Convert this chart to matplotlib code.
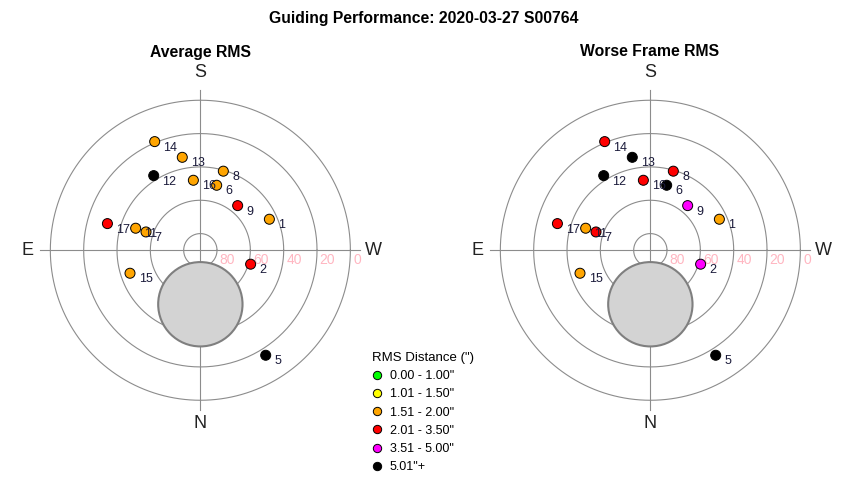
import numpy as np
import matplotlib
matplotlib.use('Agg')
import matplotlib.pyplot as plt
from matplotlib.lines import Line2D
from matplotlib.patches import Circle

plt.rcParams['font.family'] = ['Liberation Sans', 'DejaVu Sans']

# guide star positions (azimuth from N through E, altitude in degrees)
point_labels = ['1', '2', '5', '6', '7', '8', '9', '11', '12', '13', '14', '15', '16', '17']
azimuth = [245.8, 285.5, 328.1, 194.1, 108.6, 196.2, 219.9, 108.8, 148.0, 169.0, 157.2, 71.9, 174.3, 106.0]
altitude = [44.6, 58.7, 15.8, 49.8, 55.6, 40.6, 55.1, 49.0, 37.2, 33.2, 19.3, 45.6, 47.8, 32.0]

# RMS class of each point (index into bins below)
avg_class = [2, 3, 5, 2, 2, 2, 3, 2, 5, 2, 2, 2, 2, 3]
worst_class = [2, 4, 5, 5, 3, 3, 4, 2, 5, 5, 3, 2, 3, 3]

bin_labels = ['0.00 - 1.00"', '1.01 - 1.50"', '1.51 - 2.00"', '2.01 - 3.50"', '3.51 - 5.00"', '5.01"+']
bin_colors = ['#00ff00', '#ffff00', '#ffa500', '#ff0000', '#ff00ff', '#000000']

alt_rings = [80, 60, 40, 20, 0]

# moon avoidance zone
moon_az = 0.0
moon_alt = 57.6
moon_radius = 25.3


def project(az, alt):
    az = np.radians(np.asarray(az, dtype=float))
    zd = 90 - np.asarray(alt, dtype=float)
    return -zd * np.sin(az), -zd * np.cos(az)


def sky_plot(ax, classes):
    ax.set_xlim(-110, 110)
    ax.set_ylim(-110, 110)
    ax.axis('off')
    t = np.linspace(0, 2 * np.pi, 361)
    for a in alt_rings:
        zd = 90 - a
        ax.plot(zd * np.cos(t), zd * np.sin(t), color='#8c8c8c', lw=0.8, zorder=1)
        ax.text(zd + 1.6, -1.6, str(a), color='#ffb6c1', fontsize=10, ha='left', va='top', zorder=1)
    ax.plot([-96, 96], [0, 0], color='#8c8c8c', lw=0.8, zorder=1)
    ax.plot([0, 0], [-96, 96], color='#8c8c8c', lw=0.8, zorder=1)

    mx, my = project(moon_az, moon_alt)
    ax.add_patch(Circle((mx, my), moon_radius, facecolor='#d3d3d3', edgecolor='#7f7f7f', lw=1.5, zorder=2))

    ax.text(0, 106.4, 'S', fontsize=13, ha='center', va='center', color='#222222')
    ax.text(0, -104, 'N', fontsize=13, ha='center', va='center', color='#222222')
    ax.text(-104, 0, 'E', fontsize=13, ha='center', va='center', color='#222222')
    ax.text(104, 0, 'W', fontsize=13, ha='center', va='center', color='#222222')

    x, y = project(azimuth, altitude)
    cols = [bin_colors[c] for c in classes]
    ax.scatter(x, y, s=52, c=cols, edgecolors='black', linewidths=0.7, zorder=3)
    for xi, yi, lab in zip(x, y, point_labels):
        ax.annotate(lab, (xi, yi), xytext=(6.3, -4.3), textcoords='offset points',
                    fontsize=9, ha='left', va='center', color='#1a1a3a', zorder=4)


fig = plt.figure(figsize=(8.5, 4.8), dpi=100)
ax1 = fig.add_axes([17 / 850, 46.4 / 480, 366.7 / 850, 366.7 / 480])
ax2 = fig.add_axes([467 / 850, 46.4 / 480, 366.7 / 850, 366.7 / 480])
sky_plot(ax1, avg_class)
sky_plot(ax2, worst_class)

fig.text(424 / 850, 1 - 18 / 480, 'Guiding Performance: 2020-03-27 S00764',
         fontsize=11.3, fontweight='bold', ha='center', va='center')
fig.text(200 / 850, 1 - 52 / 480, 'Average RMS', fontsize=11.3, fontweight='bold', ha='center', va='center')
fig.text(650 / 850, 1 - 52 / 480, 'Worse Frame RMS', fontsize=11.3, fontweight='bold', ha='center', va='center')

handles = [Line2D([], [], marker='o', ls='', markersize=6, markerfacecolor=c,
                  markeredgecolor='black', markeredgewidth=0.7) for c in bin_colors]
leg = fig.legend(handles, bin_labels, title='RMS Distance (")', loc='upper left',
                 bbox_to_anchor=(368 / 850, 1 - 348 / 480), frameon=False, fontsize=9,
                 title_fontsize=9.5, handletextpad=0.55, handlelength=0.9, labelspacing=0.5,
                 alignment='left', borderaxespad=0, borderpad=0.3)

fig.savefig('out.png', dpi=100)
